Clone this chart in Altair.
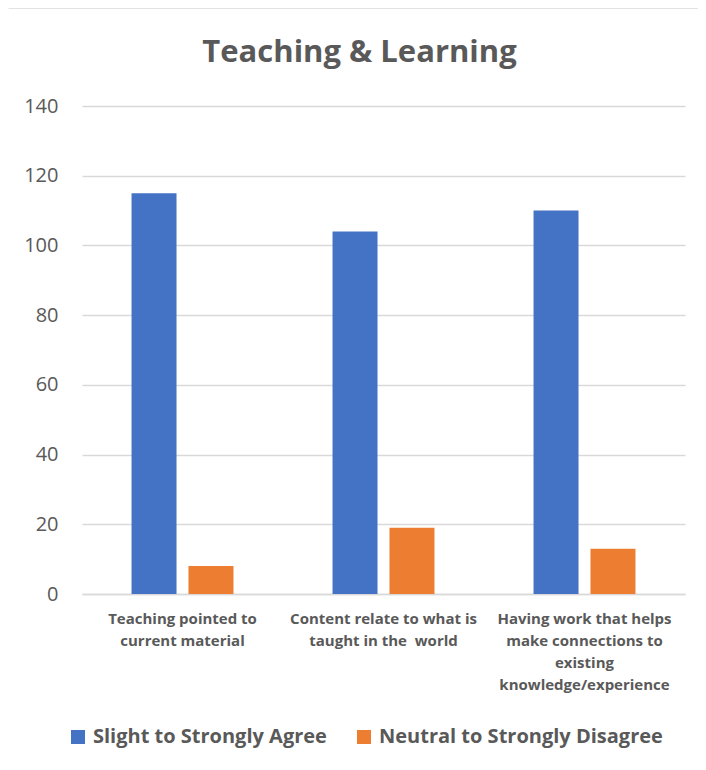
import altair as alt
import pandas as pd

chart_title = "Teaching & Learning"
categories = [
    "Teaching pointed to|current material",
    "Content relate to what is\u00a0\u00a0\u00a0\u00a0\u00a0|taught in the\u00a0\u00a0world",
    "Having work that helps|make connections to|existing|knowledge/experience",
]
series = ["Slight to Strongly Agree", "Neutral to Strongly Disagree"]
agree = [115, 104, 110]
disagree = [8, 19, 13]
colors = ["#4472C4", "#ED7D31"]

rows = []
for c, a, d in zip(categories, agree, disagree):
    rows.append({"category": c, "series": series[0], "value": a})
    rows.append({"category": c, "series": series[1], "value": d})
df = pd.DataFrame(rows)

FONT = "Open Sans"
GREY = "#595959"
LINE = "#d9d9d9"

bars = alt.Chart(df).mark_bar().encode(
    x=alt.X("category:N", sort=categories, title=None,
            scale=alt.Scale(paddingInner=0, paddingOuter=0),
            axis=alt.Axis(labelAngle=0, labelExpr="split(datum.label, '|')",
                          labelFont=FONT, labelFontSize=15, labelFontWeight="bold",
                          labelColor=GREY, labelLineHeight=22, labelPadding=17,
                          ticks=False, domainColor=LINE, domainWidth=1.3,
                          labelLimit=300)),
    xOffset=alt.XOffset("series:N", sort=series,
                        scale=alt.Scale(paddingInner=0.21, paddingOuter=0.87)),
    y=alt.Y("value:Q", title=None,
            scale=alt.Scale(domain=[0, 140]),
            axis=alt.Axis(values=[0, 20, 40, 60, 80, 100, 120, 140],
                          labelFont=FONT, labelFontSize=20, labelColor=GREY,
                          labelPadding=24, ticks=False, domain=False,
                          gridColor=LINE, gridWidth=1.3)),
    color=alt.Color("series:N", sort=series,
                    scale=alt.Scale(domain=series, range=colors),
                    legend=alt.Legend(title=None, orient="none", direction="horizontal",
                                      legendX=-14, legendY=621,
                                      symbolType="square", symbolSize=196,
                                      symbolStrokeWidth=0,
                                      labelFont=FONT, labelFontSize=20,
                                      labelFontWeight="bold", labelColor=GREY,
                                      labelOffset=5, columnPadding=27,
                                      labelLimit=400)),
)

anchor = pd.DataFrame({"k": [0]})
frame_top = alt.Chart(anchor).mark_rule(color=LINE, strokeWidth=1.3).encode(
    x=alt.value(-73.5), x2=alt.value(700), y=alt.value(-98)
)
frame_left = alt.Chart(anchor).mark_rule(color=LINE, strokeWidth=1.3).encode(
    x=alt.value(-76.5), y=alt.value(-98), y2=alt.value(700)
)

title = alt.Chart(pd.DataFrame({"t": [chart_title]})).mark_text(
    font=FONT, fontSize=31, fontWeight="bold", color=GREY,
    align="center", baseline="alphabetic"
).encode(
    text="t:N", x=alt.value(277.5), y=alt.value(-44)
)

chart = alt.layer(frame_top, frame_left, bars, title).properties(
    width=603, height=488, background="white",
    autosize=alt.AutoSizeParams(type="none"),
    padding={"left": 74, "top": 98, "right": 13, "bottom": 168},
).configure_view(strokeWidth=0, stroke="transparent")

chart.save("out.html", embed_options={"renderer": "svg", "actions": False})
